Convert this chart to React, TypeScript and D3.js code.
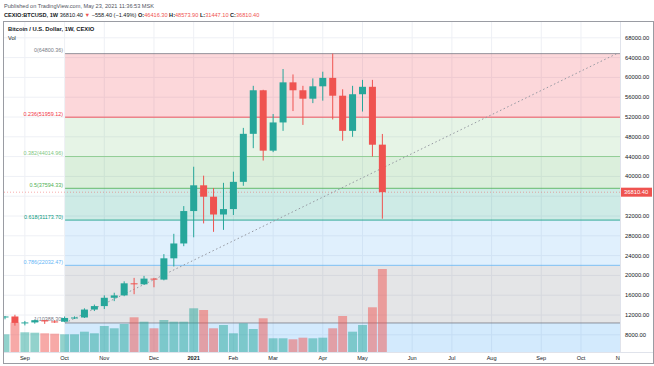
import React from 'react';
import * as d3 from 'd3';

// ---- data (weekly bars, index 0 = week of 2020-08-24) ----
const opens = [11660, 11700, 10400, 10500, 10950, 10700, 10650, 11400, 11500, 13100, 13800, 15480, 15960, 18400, 18200, 19350, 19150, 23450, 26450, 33000, 38200, 35900, 32300, 33400, 38900, 48600, 57400, 45200, 50900, 59000, 57400, 55700, 58200, 59900, 56300, 49200, 56600, 58100, 46416.3];
const highs = [11800, 12050, 10800, 11100, 11000, 10950, 11700, 11720, 13350, 14100, 15970, 16500, 18800, 19500, 19900, 19500, 24300, 28400, 34000, 41950, 40150, 37650, 38700, 40950, 49800, 58300, 57500, 52600, 61700, 60600, 58300, 59800, 61150, 64800.36, 57600, 58300, 59500, 59500, 48573.9];
const lows = [11130, 9850, 9900, 10250, 10200, 10400, 10550, 11200, 11400, 12800, 13200, 14800, 15800, 16200, 18100, 17600, 19000, 21800, 25900, 27700, 30500, 28800, 29200, 32200, 38100, 45700, 43200, 44900, 49200, 53200, 50400, 54800, 55300, 51500, 47200, 48000, 53100, 44000, 31447.1];
const closes = [11700, 10400, 10500, 10950, 10700, 10650, 11400, 11500, 13100, 13800, 15480, 15960, 18400, 18200, 19350, 19150, 23450, 26450, 33000, 38200, 35900, 32300, 33400, 38900, 48600, 57400, 45200, 50900, 59000, 57400, 55700, 58200, 59900, 56300, 49200, 56600, 58100, 46400, 36810.4];
const volumes = [1770, 2950, 1970, 1930, 1870, 1830, 1770, 1770, 2030, 1870, 2600, 2370, 2800, 3470, 3030, 2370, 3200, 3030, 3030, 4370, 4200, 2370, 2700, 1870, 2870, 2300, 3370, 1370, 1370, 1270, 1430, 1370, 1430, 2370, 3600, 2030, 2700, 4470, 8300];

const timeTickIdx = [2, 6, 10, 15, 19, 23, 27, 32, 36, 41, 45, 49, 54, 58, 62];
const timeTickLabels = ['Sep', 'Oct', 'Nov', 'Dec', '2021', 'Feb', 'Mar', 'Apr', 'May', 'Jun', 'Jul', 'Aug', 'Sep', 'Oct', 'Nov'];
const priceTicks = [8000, 12000, 16000, 20000, 24000, 28000, 32000, 36000, 40000, 44000, 48000, 52000, 56000, 60000, 64000, 68000];

const fibLevels = ['0', '0.236', '0.382', '0.5', '0.618', '0.786', '1'];
const fibPrices = [64800.36, 51959.12, 44014.96, 37594.33, 31173.7, 22032.47, 10388.3];
const fibColors = ['#787b86', '#f23645', '#81c784', '#4caf50', '#089981', '#64b5f6', '#787b86'];
const fibExtColor = '#2196f3';
const fibExtPrice = -23238;
const fibStartIdx = 6.05;
const fibEndIdx = 61.6;

const lastClose = 36810.4;

const W = 654;
const H = 366;
const PL = 4;
const PR = 620;
const PT = 22;
const PB = 352;
const FONT = '"Liberation Sans", Arial, sans-serif';
const UP = '#26a69a';
const DOWN = '#ef5350';

export default function App() {
  const x = d3.scaleLinear().domain([0, 62]).range([5, 620.7]);
  const y = d3.scaleLinear().domain([8000, 68000]).range([334.8, 37.8]);
  const vy = d3.scaleLinear().domain([0, 8300]).range([PB, 269]);

  const fx0 = x(fibStartIdx);
  const fx1 = PR;

  const zones = fibPrices.slice(1).map((p, i) => ({
    top: y(fibPrices[i]),
    bottom: y(p),
    color: fibColors[i + 1],
  }));
  zones.push({ top: y(fibPrices[fibPrices.length - 1]), bottom: y(fibExtPrice), color: fibExtColor });

  const bw = 7;
  const vw = 8.9;
  const yc = y(lastClose);
  // tick labels hidden under the last-price tag
  const visibleTicks = priceTicks.filter((p) => Math.abs(y(p) - yc) > 7);

  return (
    <svg width={W} height={H} style={{ position: 'absolute', left: 0, top: 0, background: '#fff' }} fontFamily={FONT}>
      <defs>
        <clipPath id="plot">
          <rect x={PL} y={PT} width={PR - PL} height={PB - PT} />
        </clipPath>
        <clipPath id="taxis">
          <rect x={PL} y={PB} width={PR - PL} height={H - PB} />
        </clipPath>
      </defs>
      {/* header */}
      <text x={4} y={7.5} fontSize={5.6} fill="#50535e">Published on TradingView.com, May 23, 2021 11:36:53 MSK</text>
      <text x={4} y={16.5} fontSize={5.6} fill="#131722">
        <tspan fontWeight="bold">CEXIO:BTCUSD, 1W</tspan>
        <tspan> 36810.40 </tspan>
        <tspan fill={DOWN}>▼</tspan>
        <tspan> −558.40 (−1.49%) </tspan>
        <tspan fontWeight="bold">O:</tspan>
        <tspan fill={DOWN}>46416.30 </tspan>
        <tspan fontWeight="bold">H:</tspan>
        <tspan fill={DOWN}>48573.90 </tspan>
        <tspan fontWeight="bold">L:</tspan>
        <tspan fill={DOWN}>31447.10 </tspan>
        <tspan fontWeight="bold">C:</tspan>
        <tspan fill={DOWN}>36810.40</tspan>
      </text>

      <g clipPath="url(#plot)">
        {/* grid */}
        {timeTickIdx.map((t, i) => (
          <line key={'vg' + i} x1={x(t)} x2={x(t)} y1={PT} y2={PB} stroke="#eef0f5" strokeWidth={1} />
        ))}
        {priceTicks.map((p, i) => (
          <line key={'hg' + i} x1={PL} x2={PR} y1={y(p)} y2={y(p)} stroke="#eef0f5" strokeWidth={1} />
        ))}
        {/* fib zones */}
        {zones.map((z, i) => (
          <rect key={'z' + i} x={fx0} y={z.top} width={fx1 - fx0} height={z.bottom - z.top} fill={z.color} fillOpacity={0.2} />
        ))}
        {fibPrices.map((p, i) => (
          <line key={'fl' + i} x1={fx0} x2={fx1} y1={y(p)} y2={y(p)} stroke={fibColors[i]} strokeWidth={1} strokeOpacity={0.8} />
        ))}
        {fibPrices.map((p, i) => (
          <text key={'ft' + i} x={fx0 - 2} y={y(p) - 1.5} fontSize={5.4} fill={fibColors[i]} textAnchor="end">
            {fibLevels[i]}({p.toFixed(2)})
          </text>
        ))}
        {/* trend line */}
        <line x1={x(fibStartIdx)} y1={y(fibPrices[6])} x2={x(fibEndIdx)} y2={y(fibPrices[0])} stroke="#9598a1" strokeWidth={1} strokeDasharray="1.5 2.5" />
        {/* volume */}
        {volumes.map((v, i) => (
          <rect key={'v' + i} x={x(i) - vw / 2} y={vy(v)} width={vw} height={PB - vy(v)}
            fill={closes[i] >= opens[i] ? UP : DOWN} fillOpacity={0.5} />
        ))}
        {/* price line */}
        <line x1={PL} x2={PR} y1={yc} y2={yc} stroke={DOWN} strokeOpacity={0.6} strokeWidth={0.8} strokeDasharray="1 2" />
        {/* candles */}
        {opens.map((o, i) => {
          const c = closes[i];
          const col = c >= o ? UP : DOWN;
          const top = y(Math.max(o, c));
          const bot = y(Math.min(o, c));
          return (
            <g key={'c' + i}>
              <line x1={x(i)} x2={x(i)} y1={y(highs[i])} y2={y(lows[i])} stroke={col} strokeWidth={1} />
              <rect x={x(i) - bw / 2} y={top} width={bw} height={Math.max(1, bot - top)} fill={col} />
            </g>
          );
        })}
      </g>

      {/* title */}
      <text x={8} y={31} fontSize={5.8} fontWeight="bold" fill="#131722">Bitcoin / U.S. Dollar, 1W, CEXIO</text>
      <text x={8} y={40} fontSize={5.6} fill="#131722">Vol</text>

      {/* axes separators */}
      <line x1={PR + 0.5} x2={PR + 0.5} y1={PT} y2={PB} stroke="#e0e3eb" />
      <line x1={PL} x2={W} y1={PB + 0.5} y2={PB + 0.5} stroke="#e0e3eb" />

      {/* price axis */}
      {visibleTicks.map((p, i) => (
        <text key={'pt' + i} x={625} y={y(p) + 2} fontSize={5.8} fill="#131722">{p.toFixed(2)}</text>
      ))}
      <rect x={PR + 1} y={yc - 4.5} width={31} height={9} fill={DOWN} />
      <text x={624} y={yc + 2} fontSize={5.8} fill="#ffffff">{lastClose.toFixed(2)}</text>

      {/* time axis */}
      <g clipPath="url(#taxis)">
        {timeTickIdx.map((t, i) => (
          <text key={'tt' + i} x={x(t)} y={359.5} fontSize={5.6} fill="#131722" textAnchor="middle"
            fontWeight={timeTickLabels[i] === '2021' ? 'bold' : 'normal'}>
            {timeTickLabels[i]}
          </text>
        ))}
      </g>

      {/* frame */}
      <rect x={3.5} y={21.5} width={W - 4} height={342} fill="none" stroke="#9a9ca3" strokeWidth={1} />
    </svg>
  );
}
